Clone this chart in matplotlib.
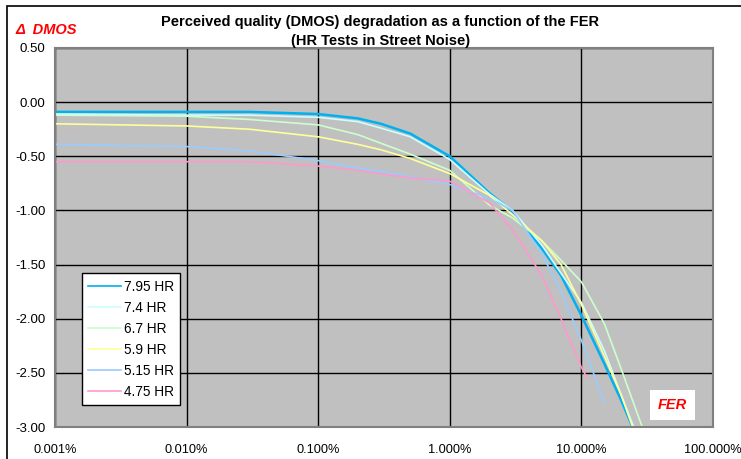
import numpy as np
import matplotlib
matplotlib.use("Agg")
import matplotlib.pyplot as plt
from matplotlib.ticker import FixedLocator, FuncFormatter
from matplotlib.patches import Rectangle

plt.rcParams['font.family'] = ['Liberation Sans', 'DejaVu Sans']

# FER in percent
fer = [0.001, 0.01, 0.03, 0.1, 0.2, 0.3, 0.5, 1, 2, 3, 5, 7, 10, 15, 20, 30]
hr_795 = [-0.09, -0.09, -0.09, -0.11, -0.15, -0.20, -0.29, -0.50, -0.84, -1.01, -1.35, -1.60, -1.97, -2.42, -2.75, -3.25]
hr_74 = [-0.11, -0.12, -0.12, -0.14, -0.18, -0.24, -0.32, -0.53, -0.85, -1.00, -1.32, -1.58, -1.85, -2.30, -2.70, -3.25]
hr_67 = [-0.12, -0.13, -0.16, -0.21, -0.30, -0.38, -0.48, -0.63, -0.95, -1.07, -1.28, -1.46, -1.66, -2.05, -2.46, -3.05]
hr_59 = [-0.20, -0.22, -0.25, -0.32, -0.39, -0.44, -0.52, -0.66, -0.86, -1.04, -1.28, -1.50, -1.87, -2.35, -2.70, -3.30]
fer_515 = [0.001, 0.01, 0.03, 0.1, 0.2, 0.3, 0.5, 1, 2, 3, 5, 7, 10, 15]
hr_515 = [-0.39, -0.41, -0.45, -0.54, -0.61, -0.64, -0.69, -0.76, -0.89, -1.00, -1.40, -1.75, -2.20, -2.78]
fer_475 = [0.001, 0.01, 0.03, 0.1, 0.2, 0.3, 0.5, 1, 2, 3, 5, 7, 10, 11]
hr_475 = [-0.55, -0.55, -0.55, -0.59, -0.63, -0.66, -0.70, -0.73, -0.93, -1.18, -1.60, -2.00, -2.45, -2.54]

series = [
    ("7.95 HR", fer, hr_795, "#00B0F0", 1.8),
    ("7.4 HR", fer, hr_74, "#CCFFFF", 1.2),
    ("6.7 HR", fer, hr_67, "#CCFFCC", 1.2),
    ("5.9 HR", fer, hr_59, "#FFFF99", 1.2),
    ("5.15 HR", fer_515, hr_515, "#99CCFF", 1.2),
    ("4.75 HR", fer_475, hr_475, "#FF99CC", 1.2),
]

fig = plt.figure(figsize=(7.41, 4.59), dpi=100)
ax = fig.add_axes([55/741, 1-427/459, 658/741, 379/459])
ax.set_facecolor("#C0C0C0")

for label, x, y, c, lw in series:
    ax.plot(x, y, color=c, lw=lw, label=label)

ax.set_xscale("log")
ax.set_xlim(0.001, 100)
ax.set_ylim(-3.0, 0.5)
ax.xaxis.set_major_locator(FixedLocator([0.001, 0.01, 0.1, 1, 10, 100]))
ax.xaxis.set_minor_locator(FixedLocator([]))
ax.xaxis.set_major_formatter(FuncFormatter(lambda v, p: "%.3f%%" % v))
ax.set_yticks(np.arange(-3.0, 0.51, 0.5))
ax.yaxis.set_major_formatter(FuncFormatter(lambda v, p: "%.2f" % v))
ax.grid(True, color="black", lw=1.0)
ax.set_axisbelow(True)
ax.tick_params(length=0, labelsize=9.5)
ax.tick_params(axis="x", pad=12, labelsize=9.2)
ax.tick_params(axis="y", pad=7)
for s in ax.spines.values():
    s.set_color("#808080")
    s.set_linewidth(1.5)

leg = ax.legend(loc="lower left", bbox_to_anchor=(0.041, 0.058), fontsize=9.8,
                frameon=True, fancybox=False, edgecolor="black", framealpha=1,
                handlelength=2.4, handletextpad=0.25, labelspacing=0.52, borderpad=0.45,
                borderaxespad=0)
leg.get_frame().set_linewidth(1.0)
for h in leg.get_lines():
    h.set_linewidth(1.2)

fig.text(0.513, 1-22/459, "Perceived quality (DMOS) degradation as a function of the FER",
         ha="center", va="center", fontsize=10.5, fontweight="bold")
fig.text(0.513, 1-41/459, "(HR Tests in Street Noise)",
         ha="center", va="center", fontsize=10.5, fontweight="bold")
fig.text(15/741, 1-30/459, "\u0394  DMOS", ha="left", va="center", fontsize=10.5,
         fontweight="bold", style="italic", color="red")
ax.text(0.938, 0.058, "FER", transform=ax.transAxes, ha="center", va="center",
        fontsize=10.5, fontweight="bold", style="italic", color="red",
        bbox=dict(facecolor="white", edgecolor="none", boxstyle="square,pad=0.55"))

fig.patches.append(Rectangle((7/741, -0.1), 1.0, 1-6/459+0.1, transform=fig.transFigure,
                             fill=False, edgecolor="black", lw=1.2))

fig.savefig("out.png", dpi=100)
